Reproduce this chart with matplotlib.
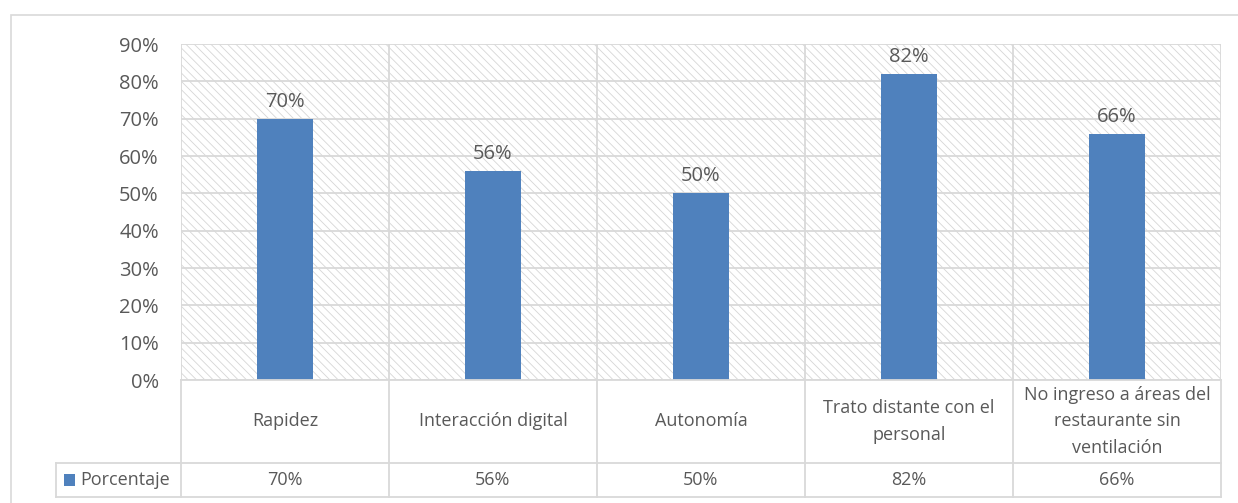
import matplotlib.pyplot as plt
from matplotlib.patches import Rectangle

categorias = ["Rapidez", "Interacción digital", "Autonomía",
              "Trato distante con el\npersonal",
              "No ingreso a áreas del\nrestaurante sin\nventilación"]
porcentaje = [70, 56, 50, 82, 66]
serie = "Porcentaje"
yticks = [0, 10, 20, 30, 40, 50, 60, 70, 80, 90]

azul = "#4f81bd"
gris_txt = "#595959"
gris_linea = "#d9d9d9"

plt.rcParams['font.family'] = ['Open Sans', 'DejaVu Sans']
plt.rcParams['hatch.linewidth'] = 0.6

W, H = 1238, 503
fig = plt.figure(figsize=(W / 100, H / 100), dpi=100)

# borde exterior del grafico
fig.patches.append(Rectangle((11 / W, 1 - 510 / H), 1240 / W, 495 / H,
                             transform=fig.transFigure, fill=False,
                             edgecolor=gris_linea, lw=1.2))

L, R, T, B = 181, 1221, 44, 380
ax = fig.add_axes([L / W, 1 - B / H, (R - L) / W, (B - T) / H])
n = len(categorias)
x = list(range(n))

# fondo rayado del area de trazado
ax.add_patch(Rectangle((0, 0), 1, 1, transform=ax.transAxes, facecolor="white",
                       edgecolor="#d6d6d6", hatch="\\\\\\\\", lw=0, zorder=0))
for v in yticks:
    ax.axhline(v, color=gris_linea, lw=1.3, zorder=1)
for i in range(n + 1):
    ax.axvline(i - 0.5, color=gris_linea, lw=1.3, zorder=1)

ax.bar(x, porcentaje, width=0.27, color=azul, zorder=3)
for xi, v in zip(x, porcentaje):
    ax.annotate(f"{v}%", (xi, v), xytext=(0, 5), textcoords="offset points",
                ha="center", va="bottom", fontsize=14.5, color=gris_txt)

ax.set_xlim(-0.5, n - 0.5)
ax.set_ylim(0, 90)
ax.set_yticks(yticks)
ax.set_yticklabels([f"{v}%" for v in yticks], fontsize=14.5, color=gris_txt)
ax.tick_params(axis="y", length=0, pad=16)
ax.set_xticks([])
for s in ax.spines.values():
    s.set_visible(False)

# tabla de datos bajo el grafico
tb = fig.add_axes([L / W, 1 - 497 / H, (R - L) / W, (497 - B) / H])
tb.set_xlim(-0.5, n - 0.5)
tb.set_ylim(497, B)
tb.axis("off")
fila = 463
izq = -0.5 - (L - 56) / ((R - L) / n)
kw = dict(color=gris_linea, lw=1.3, clip_on=False)
tb.plot([-0.5, n - 0.5], [B, B], **kw)
tb.plot([izq, n - 0.5], [fila, fila], **kw)
tb.plot([izq, n - 0.5], [497, 497], **kw)
tb.plot([izq, izq], [fila, 497], **kw)
for i in range(n + 1):
    tb.plot([i - 0.5, i - 0.5], [B, 497], **kw)
for xi, cat, v in zip(x, categorias, porcentaje):
    tb.text(xi, (B + fila) / 2, cat, ha="center", va="center", fontsize=13,
            color=gris_txt, linespacing=1.6)
    tb.text(xi, (fila + 497) / 2, f"{v}%", ha="center", va="center",
            fontsize=13, color=gris_txt)

# leyenda dentro de la tabla
ux = (R - L) / n
tb.add_patch(Rectangle((-0.5 - (L - 64) / ux, 474), 11 / ux, 12,
                       facecolor=azul, lw=0, clip_on=False))
tb.text(-0.5 - (L - 80) / ux, (fila + 497) / 2, serie, ha="left", va="center",
        fontsize=13, color=gris_txt)

fig.savefig("out.png", dpi=100)
